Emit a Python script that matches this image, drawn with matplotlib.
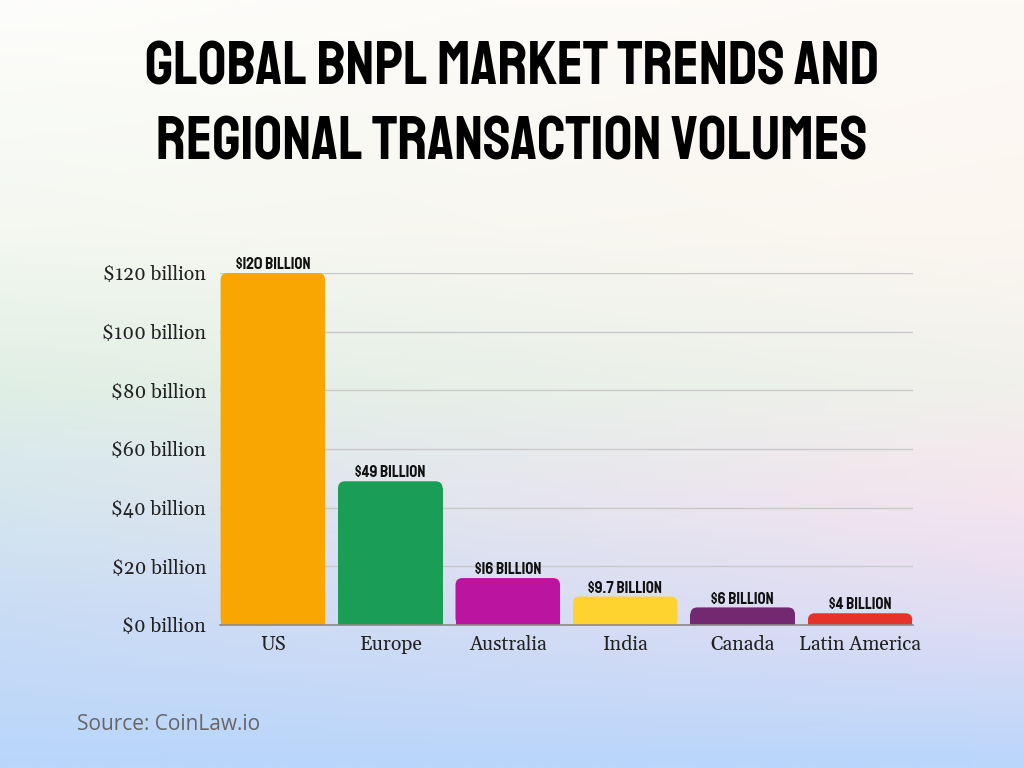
import numpy as np
import matplotlib
matplotlib.use("Agg")
import matplotlib.pyplot as plt
from matplotlib.patches import FancyBboxPatch

regions = ["US", "Europe", "Australia", "India", "Canada", "Latin America"]
volumes = [120, 49, 16, 9.7, 6, 4]   # $ billion
bar_labels = ["$120 billion", "$49 billion", "$16 billion",
              "$9.7 billion", "$6 billion", "$4 billion"]
bar_colours = ["#F9A602", "#1A9E55", "#BB14A0", "#FED330", "#722970", "#E63329"]
yticks = [0, 20, 40, 60, 80, 100, 120]
ytick_labels = ["$%d billion" % v for v in yticks]

title_lines = ["Global BNPL Market Trends and", "Regional Transaction Volumes"]
source = "Source: CoinLaw.io"

W, H = 1024, 768
fig = plt.figure(figsize=(W / 100, H / 100), dpi=100)

# soft background gradient (rows top->bottom, left / right colour)
rows = [0.0, 0.3, 0.5, 0.65, 0.8, 1.0]
left = ["#fdfdfb", "#f4f8f1", "#e0efe5", "#d6e6ee", "#c9dcf5", "#b9d6fb"]
right = ["#fdf9f5", "#fcf6f0", "#f1f1ec", "#f5e5ee", "#e2ddf3", "#b9d6fb"]
to_rgb = lambda c: np.array(matplotlib.colors.to_rgb(c))
ny, nx = 200, 200
ys = np.linspace(0, 1, ny)
xs = np.linspace(0, 1, nx)
L = np.array([[np.interp(y, rows, [to_rgb(c)[k] for c in left]) for k in range(3)] for y in ys])
R = np.array([[np.interp(y, rows, [to_rgb(c)[k] for c in right]) for k in range(3)] for y in ys])
img = L[:, None, :] * (1 - xs[None, :, None]) + R[:, None, :] * xs[None, :, None]
bg = fig.add_axes([0, 0, 1, 1], zorder=-10)
bg.imshow(img, aspect="auto", extent=[0, 1, 0, 1], origin="upper")
bg.axis("off")

for line, ypx in zip(title_lines, [63, 138]):
    fig.text(0.5, 1 - ypx / H, line, ha="center", va="center_baseline",
             fontsize=45, family=["Staatliches", "DejaVu Sans"], color="#000000")

ax = fig.add_axes([220 / W, 143 / H, 693 / W, 352 / H])
ax.patch.set_alpha(0)
x = np.arange(len(regions))
width = 0.89
ax.set_xlim(-0.45, len(regions) - 0.55)
ax.set_ylim(0, 120)

# rounded tops: radius in data units (x, y)
rx, ry = 0.06, 2.4
for xi, v, c in zip(x, volumes, bar_colours):
    ax.bar(xi, max(v - ry, 0), width=width, color=c, zorder=3)
    p = FancyBboxPatch((xi - width / 2, 0), width, v,
                       boxstyle="round,pad=0,rounding_size=%g" % rx,
                       mutation_aspect=ry / rx, facecolor=c, edgecolor="none",
                       zorder=3)
    ax.add_patch(p)

for xi, v, lab in zip(x, volumes, bar_labels):
    ax.text(xi, v + 1.3, lab, ha="center", va="bottom", fontsize=12.5,
            family=["Staatliches", "DejaVu Sans"], color="#111111", clip_on=False)

ax.set_yticks(yticks)
ax.set_yticklabels(ytick_labels, family="Gelasio", fontsize=14, color="#222222")
ax.set_xticks(x)
ax.set_xticklabels(regions, family="Gelasio", fontsize=14, color="#222222")
ax.tick_params(length=0)
ax.tick_params(axis="y", pad=10)
ax.tick_params(axis="x", pad=7)
ax.grid(axis="y", color="#c9c9c9", linewidth=1, zorder=0)
ax.set_axisbelow(True)
for s in ["top", "right", "left"]:
    ax.spines[s].set_visible(False)
ax.spines["bottom"].set_color("#8a8a8a")
ax.spines["bottom"].set_linewidth(1.2)
ax.spines["bottom"].set_zorder(4)

fig.text(77 / W, 1 - 725 / H, source, ha="left", va="center", fontsize=15,
         family="Open Sans", color="#666666")

fig.savefig("out.png", dpi=100)
